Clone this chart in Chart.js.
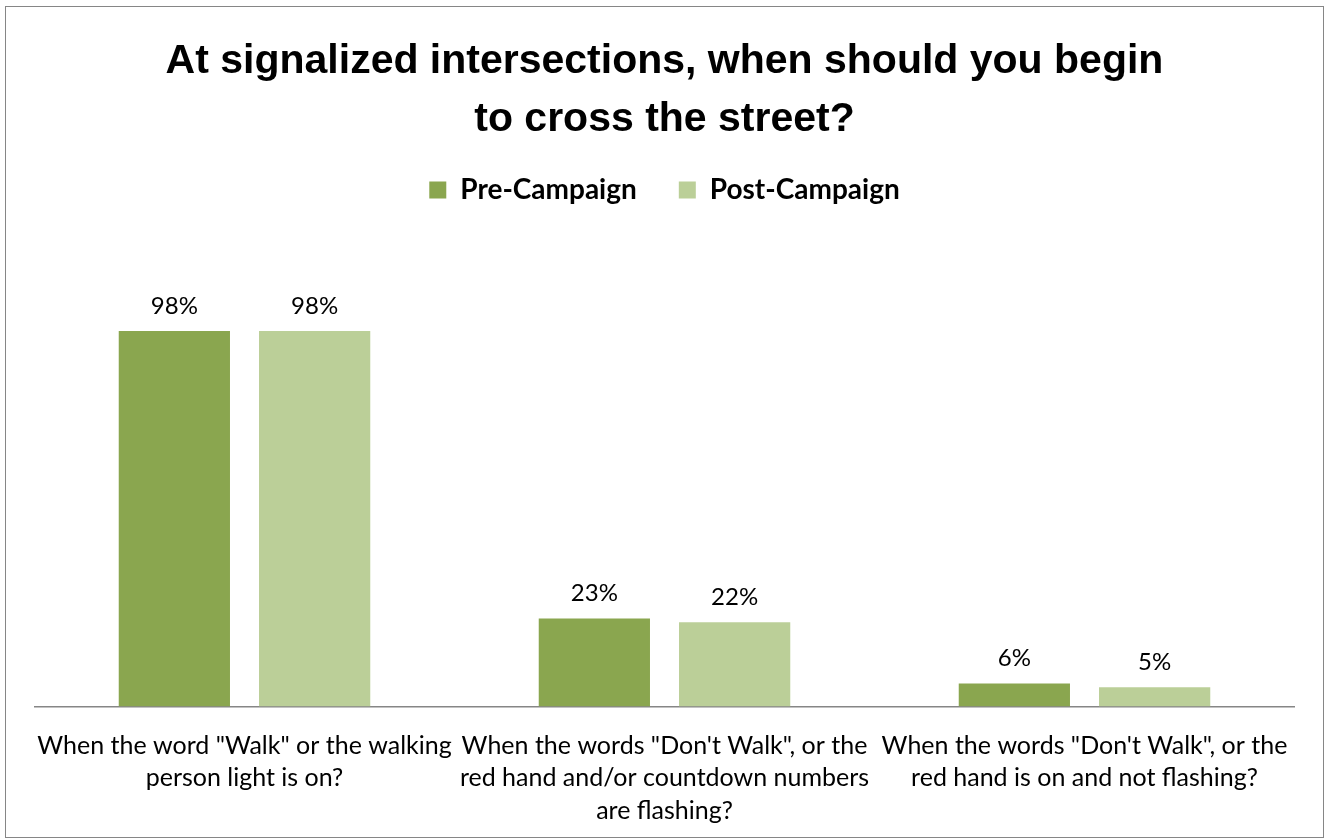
<!DOCTYPE html>
<html>
<head>
<meta charset="utf-8">
<script src="https://cdn.jsdelivr.net/npm/chart.js@4"></script>
<style>
    body { margin: 0; background: #fff; overflow: hidden; }
    #box { position: absolute; left: 5px; top: 6px; width: 1317px; height: 830px; border: 1.5px solid #868686; }
    #wrap { position: absolute; left: 0; top: 0; width: 1325px; height: 842px; }
</style>
</head>
<body>
<div id="box"></div>
<div id="wrap"><canvas id="myChart"></canvas></div>
<script>
const categories = [
    ["When the word \"Walk\" or the walking", "person light is on?"],
    ["When the words \"Don't Walk\", or the", "red hand and/or countdown numbers", "are flashing?"],
    ["When the words \"Don't Walk\", or the", "red hand is on and not flashing?"]
]
const preCampaign = [98, 23, 6]
const postCampaign = [98, 22, 5]
const titleLines = ["At signalized intersections, when should you begin", "to cross the street?"]

const preColor = "#8aa64f"
const postColor = "#bbcf98"

// fixed legend height so the plot starts where the original does
const legendGap = {
    id: "legendGap",
    beforeInit(chart) {
        const fit = chart.legend.fit
        chart.legend.fit = function () {
            fit.bind(chart.legend)()
            this.height = 189.4
        }
    }
}

const barLabels = {
    id: "barLabels",
    afterDatasetsDraw(chart) {
        const ctx = chart.ctx
        ctx.save()
        ctx.font = "24px Lato"
        ctx.fillStyle = "#000"
        ctx.textAlign = "center"
        ctx.textBaseline = "bottom"
        chart.data.datasets.forEach(function (ds, i) {
            chart.getDatasetMeta(i).data.forEach(function (bar, j) {
                ctx.fillText(ds.data[j] + "%", bar.x, bar.y - 13)
            })
        })
        ctx.restore()
    }
}

var ctx = document.getElementById("myChart").getContext("2d")
var chart = new Chart(ctx, {
    type: "bar",
    data: {
        labels: categories,
        datasets: [{
            label: "Pre-Campaign",
            backgroundColor: preColor,
            data: preCampaign
        }, {
            label: "Post-Campaign",
            backgroundColor: postColor,
            data: postCampaign
        }]
    },
    options: {
        responsive: true,
        maintainAspectRatio: false,
        animation: false,
        layout: { padding: { left: 34.5, right: 30.5, top: 0, bottom: 0 } },
        datasets: { bar: { categoryPercentage: 0.668, barPercentage: 0.793 } },
        plugins: {
            title: {
                display: true,
                text: titleLines,
                color: "#000",
                font: { family: "Liberation Sans", size: 41, weight: "bold", lineHeight: 1.415 },
                padding: { top: 33, bottom: -15 }
            },
            legend: {
                display: true,
                labels: {
                    color: "#000",
                    font: { family: "Lato", size: 28, weight: "bold" },
                    boxWidth: 17,
                    boxHeight: 17,
                    padding: 42
                }
            },
            tooltip: { enabled: false }
        },
        scales: {
            x: {
                grid: { display: false },
                border: { display: true, color: "#868686", width: 1.5 },
                ticks: {
                    color: "#000",
                    font: { family: "Lato", size: 25, lineHeight: 1.3 },
                    maxRotation: 0,
                    autoSkip: false,
                    padding: 15
                }
            },
            y: {
                display: false,
                min: 0,
                max: 100
            }
        }
    },
    plugins: [legendGap, barLabels]
})
</script>
</body>
</html>
